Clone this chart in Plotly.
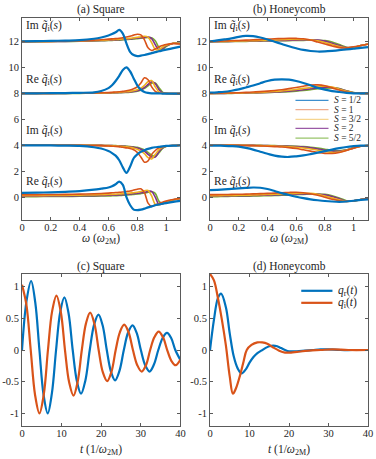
import plotly.graph_objects as go

# spin values and their (MATLAB default) colours
SPINS = ["1/2", "1", "3/2", "2", "5/2"]
COLORS = ["#0072BD", "#D95319", "#EDB120", "#7E2F8E", "#77AC30"]
LEGEND_COLORS = ["#3d8fce", "#f0ab8c", "#f6d58f", "#9a5aa6", "#98c46a"]

# ---- (a) Square: frequency grid and response curves (offset for display) ----
W_SQ = [0, 0.1, 0.2, 0.3, 0.4, 0.5, 0.55, 0.6, 0.625, 0.65, 0.675, 0.7, 0.725,
        0.75, 0.775, 0.8, 0.825, 0.85, 0.875, 0.9, 0.925, 0.95, 0.975, 1.0, 1.05, 1.1]

SQ_IM_QI = {
    "1/2": [12.0, 12.02, 12.04, 12.06, 12.09, 12.2, 12.3, 12.45, 12.56, 12.7, 12.88, 12.6, 11.85,
            11.2, 10.95, 10.87, 10.9, 10.95, 11.02, 11.1, 11.17, 11.24, 11.3, 11.36, 11.48, 11.6],
    "1": [11.98, 11.99, 12.0, 12.02, 12.05, 12.1, 12.13, 12.17, 12.19, 12.21, 12.24, 12.28, 12.33,
          12.4, 12.48, 12.55, 12.5, 12.12, 11.5, 11.3, 11.42, 11.58, 11.68, 11.76, 11.83, 11.8],
    "3/2": [11.98, 11.99, 12.0, 12.01, 12.03, 12.07, 12.09, 12.11, 12.13, 12.14, 12.16, 12.18, 12.2,
            12.23, 12.27, 12.31, 12.35, 12.4, 12.33, 11.9, 11.38, 11.35, 11.55, 11.7, 11.86, 11.82],
    "2": [11.98, 11.99, 11.99, 12.0, 12.02, 12.05, 12.07, 12.09, 12.1, 12.11, 12.13, 12.15, 12.17,
          12.19, 12.22, 12.25, 12.28, 12.31, 12.33, 12.22, 11.75, 11.35, 11.45, 11.65, 11.86, 11.83],
    "5/2": [11.98, 11.98, 11.99, 12.0, 12.01, 12.04, 12.05, 12.07, 12.08, 12.09, 12.1, 12.12, 12.14,
            12.16, 12.18, 12.21, 12.24, 12.27, 12.3, 12.28, 12.05, 11.55, 11.4, 11.6, 11.86, 11.85],
}
SQ_RE_QI = {
    "1/2": [8.0, 8.0, 8.01, 8.02, 8.04, 8.08, 8.18, 8.4, 8.62, 8.95, 9.35, 9.8, 10.0,
            9.7, 9.15, 8.62, 8.28, 8.1, 8.03, 8.0, 7.99, 7.99, 7.98, 7.98, 7.98, 7.98],
    "1": [8.0, 8.0, 8.0, 8.01, 8.02, 8.03, 8.04, 8.06, 8.08, 8.1, 8.12, 8.15, 8.2,
          8.25, 8.35, 8.5, 8.8, 9.2, 9.05, 8.5, 8.15, 8.03, 8.0, 7.99, 7.98, 7.98],
    "3/2": [8.0, 8.0, 8.0, 8.0, 8.01, 8.02, 8.03, 8.04, 8.05, 8.06, 8.08, 8.1, 8.12,
            8.15, 8.2, 8.28, 8.4, 8.62, 8.9, 8.98, 8.5, 8.12, 8.02, 8.0, 7.98, 7.98],
    "2": [8.0, 8.0, 8.0, 8.0, 8.01, 8.02, 8.02, 8.03, 8.04, 8.05, 8.06, 8.07, 8.09,
          8.11, 8.15, 8.2, 8.3, 8.45, 8.68, 8.88, 8.75, 8.3, 8.05, 8.0, 7.98, 7.98],
    "5/2": [8.0, 8.0, 8.0, 8.0, 8.0, 8.01, 8.02, 8.02, 8.03, 8.04, 8.05, 8.06, 8.07,
            8.09, 8.12, 8.16, 8.24, 8.38, 8.58, 8.78, 8.8, 8.45, 8.1, 8.0, 7.98, 7.98],
}
SQ_IM_QR = {
    "1/2": [4.0, 4.0, 3.99, 3.97, 3.95, 3.85, 3.75, 3.55, 3.4, 3.2, 2.85, 2.3, 1.87,
            2.35, 3.0, 3.3, 3.5, 3.62, 3.72, 3.8, 3.85, 3.88, 3.92, 3.95, 3.98, 4.0],
    "1": [4.0, 4.0, 4.0, 4.0, 3.99, 3.98, 3.97, 3.95, 3.93, 3.91, 3.88, 3.85, 3.8,
          3.75, 3.65, 3.45, 3.1, 2.7, 2.8, 3.3, 3.6, 3.8, 3.88, 3.93, 3.98, 4.0],
    "3/2": [4.0, 4.0, 4.0, 4.0, 4.0, 3.99, 3.98, 3.97, 3.96, 3.95, 3.93, 3.91, 3.88,
            3.84, 3.78, 3.7, 3.55, 3.35, 3.05, 2.95, 3.3, 3.65, 3.85, 3.93, 3.98, 4.0],
    "2": [4.0, 4.0, 4.0, 4.0, 4.0, 3.99, 3.99, 3.98, 3.97, 3.96, 3.95, 3.93, 3.91,
          3.88, 3.84, 3.79, 3.7, 3.55, 3.3, 3.1, 3.1, 3.5, 3.8, 3.92, 3.98, 4.0],
    "5/2": [4.0, 4.0, 4.0, 4.0, 4.0, 4.0, 3.99, 3.98, 3.98, 3.97, 3.96, 3.95, 3.93,
            3.91, 3.88, 3.84, 3.76, 3.65, 3.45, 3.25, 3.15, 3.4, 3.75, 3.9, 3.98, 4.0],
}
SQ_RE_QR = {
    "1/2": [0.33, 0.35, 0.38, 0.42, 0.47, 0.58, 0.66, 0.75, 0.85, 1.0, 1.2, 0.95, 0.0,
            -0.6, -0.95, -1.0, -0.96, -0.88, -0.78, -0.7, -0.62, -0.56, -0.5, -0.45, -0.36, -0.28],
    "1": [0.2, 0.2, 0.21, 0.22, 0.24, 0.27, 0.29, 0.32, 0.34, 0.36, 0.38, 0.4, 0.44,
          0.48, 0.55, 0.62, 0.65, 0.35, -0.45, -0.7, -0.6, -0.48, -0.38, -0.3, -0.18, -0.08],
    "3/2": [0.12, 0.12, 0.13, 0.14, 0.16, 0.18, 0.19, 0.21, 0.22, 0.23, 0.25, 0.27, 0.29,
            0.32, 0.35, 0.38, 0.44, 0.5, 0.52, 0.1, -0.55, -0.6, -0.45, -0.35, -0.2, -0.1],
    "2": [0.08, 0.08, 0.09, 0.1, 0.11, 0.12, 0.13, 0.15, 0.16, 0.17, 0.18, 0.2, 0.22,
          0.24, 0.27, 0.3, 0.34, 0.38, 0.45, 0.45, 0.0, -0.55, -0.5, -0.38, -0.2, -0.1],
    "5/2": [0.05, 0.05, 0.06, 0.06, 0.07, 0.08, 0.09, 0.1, 0.11, 0.12, 0.13, 0.15, 0.17,
            0.19, 0.22, 0.25, 0.28, 0.32, 0.38, 0.42, 0.3, -0.3, -0.5, -0.4, -0.2, -0.1],
}

# ---- (b) Honeycomb ----
W_HC = [0, 0.05, 0.1, 0.15, 0.2, 0.25, 0.3, 0.35, 0.4, 0.45, 0.5, 0.55, 0.6,
        0.65, 0.7, 0.75, 0.8, 0.85, 0.9, 0.95, 1.0, 1.05, 1.1]

HC_IM_QI = {
    "1/2": [12.0, 12.08, 12.15, 12.23, 12.35, 12.42, 12.4, 12.3, 12.15, 11.97, 11.8, 11.62,
            11.47, 11.34, 11.26, 11.22, 11.23, 11.27, 11.32, 11.38, 11.44, 11.5, 11.55],
    "1": [12.0, 12.01, 12.03, 12.05, 12.07, 12.1, 12.12, 12.15, 12.17, 12.2, 12.22, 12.24,
          12.23, 12.2, 12.1, 11.95, 11.8, 11.65, 11.52, 11.5, 11.58, 11.68, 11.78],
    "3/2": [11.98, 11.99, 12.0, 12.01, 12.03, 12.04, 12.05, 12.07, 12.09, 12.1, 12.12, 12.14,
            12.15, 12.15, 12.13, 12.05, 11.92, 11.75, 11.6, 11.5, 11.55, 11.68, 11.8],
    "2": [11.97, 11.98, 11.99, 12.0, 12.01, 12.02, 12.03, 12.04, 12.05, 12.06, 12.07, 12.09,
          12.1, 12.11, 12.12, 12.1, 12.02, 11.85, 11.68, 11.52, 11.55, 11.68, 11.8],
    "5/2": [11.97, 11.98, 11.98, 11.99, 12.0, 12.0, 12.01, 12.02, 12.03, 12.04, 12.05, 12.06,
            12.07, 12.08, 12.1, 12.09, 12.06, 11.95, 11.75, 11.55, 11.55, 11.68, 11.8],
}
HC_RE_QI = {
    "1/2": [8.05, 8.08, 8.12, 8.2, 8.3, 8.45, 8.6, 8.78, 8.95, 9.05, 9.08, 9.05,
            8.95, 8.8, 8.62, 8.42, 8.28, 8.17, 8.1, 8.04, 8.0, 7.99, 7.99],
    "1": [8.0, 8.01, 8.02, 8.03, 8.05, 8.07, 8.1, 8.13, 8.17, 8.22, 8.28, 8.36,
          8.45, 8.55, 8.63, 8.65, 8.58, 8.42, 8.25, 8.1, 8.02, 8.0, 8.0],
    "3/2": [8.0, 8.0, 8.01, 8.02, 8.03, 8.04, 8.05, 8.07, 8.1, 8.14, 8.18, 8.24,
            8.3, 8.38, 8.45, 8.52, 8.55, 8.48, 8.32, 8.15, 8.04, 8.0, 8.0],
    "2": [8.0, 8.0, 8.0, 8.01, 8.02, 8.03, 8.04, 8.05, 8.07, 8.1, 8.12, 8.17,
          8.22, 8.28, 8.35, 8.42, 8.47, 8.45, 8.35, 8.18, 8.05, 8.0, 8.0],
    "5/2": [8.0, 8.0, 8.0, 8.0, 8.01, 8.02, 8.03, 8.04, 8.06, 8.08, 8.1, 8.13,
            8.17, 8.22, 8.28, 8.35, 8.4, 8.42, 8.36, 8.2, 8.06, 8.0, 8.0],
}
HC_IM_QR = {
    "1/2": [3.97, 3.97, 3.96, 3.94, 3.9, 3.8, 3.67, 3.5, 3.35, 3.2, 3.12, 3.1,
            3.15, 3.22, 3.32, 3.43, 3.55, 3.67, 3.78, 3.87, 3.93, 3.97, 3.98],
    "1": [4.0, 4.0, 4.0, 3.99, 3.99, 3.98, 3.97, 3.95, 3.93, 3.9, 3.87, 3.82,
          3.75, 3.65, 3.55, 3.45, 3.38, 3.37, 3.45, 3.6, 3.78, 3.92, 3.98],
    "3/2": [4.0, 4.0, 4.0, 4.0, 3.99, 3.99, 3.98, 3.97, 3.96, 3.94, 3.92, 3.89,
            3.85, 3.79, 3.72, 3.62, 3.52, 3.45, 3.48, 3.62, 3.8, 3.93, 3.98],
    "2": [4.0, 4.0, 4.0, 4.0, 4.0, 3.99, 3.99, 3.98, 3.97, 3.96, 3.95, 3.93,
          3.9, 3.86, 3.8, 3.72, 3.62, 3.55, 3.53, 3.63, 3.8, 3.93, 3.98],
    "5/2": [4.0, 4.0, 4.0, 4.0, 4.0, 4.0, 3.99, 3.99, 3.98, 3.97, 3.96, 3.95,
            3.93, 3.9, 3.85, 3.78, 3.7, 3.62, 3.58, 3.65, 3.82, 3.93, 3.98],
}
HC_RE_QR = {
    "1/2": [0.55, 0.57, 0.6, 0.64, 0.68, 0.72, 0.75, 0.73, 0.63, 0.48, 0.32, 0.17,
            0.04, -0.07, -0.16, -0.23, -0.29, -0.33, -0.35, -0.33, -0.27, -0.21, -0.16],
    "1": [0.2, 0.2, 0.21, 0.22, 0.23, 0.24, 0.26, 0.28, 0.3, 0.32, 0.35, 0.37,
          0.38, 0.35, 0.27, 0.15, 0.0, -0.15, -0.28, -0.32, -0.27, -0.18, -0.1],
    "3/2": [0.12, 0.12, 0.13, 0.14, 0.15, 0.16, 0.17, 0.19, 0.21, 0.23, 0.25, 0.28,
            0.3, 0.31, 0.3, 0.22, 0.1, -0.05, -0.2, -0.32, -0.28, -0.18, -0.1],
    "2": [0.1, 0.1, 0.1, 0.11, 0.12, 0.12, 0.13, 0.15, 0.16, 0.18, 0.2, 0.22,
          0.24, 0.26, 0.27, 0.25, 0.18, 0.05, -0.12, -0.3, -0.28, -0.18, -0.1],
    "5/2": [0.05, 0.05, 0.06, 0.07, 0.07, 0.08, 0.09, 0.1, 0.12, 0.13, 0.15, 0.17,
            0.2, 0.22, 0.24, 0.25, 0.22, 0.12, -0.05, -0.27, -0.28, -0.18, -0.1],
}

# ---- (c) Square, time domain ----
T_SQ_R = [0, 1.15, 2.3, 3.35, 4.4, 5.45, 6.5, 7.55, 8.6, 9.65, 10.7, 11.75, 12.8, 13.85,
          14.9, 16.0, 17.1, 18.2, 19.3, 20.35, 21.4, 22.45, 23.5, 24.6, 25.7, 26.8, 27.9,
          28.95, 30.0, 31.1, 32.2, 33.3, 34.4, 35.5, 36.6, 37.65, 38.7, 40]
Q_SQ_R = [0, 0.78, 1.09, 0.75, 0, -0.71, -1.0, -0.68, 0, 0.6, 0.83, 0.58, 0, -0.49,
          -0.69, -0.48, 0, 0.4, 0.56, 0.39, 0, -0.34, -0.48, -0.33, 0, 0.28, 0.39,
          0.27, 0, -0.24, -0.34, -0.23, 0, 0.19, 0.27, 0.19, 0, -0.16]
T_SQ_I = [0, 1.1, 2.2, 3.3, 4.4, 5.5, 6.55, 7.6, 8.7, 9.8, 10.85, 11.9, 13.0, 14.05,
          15.1, 16.15, 17.2, 18.3, 19.35, 20.4, 21.5, 22.6, 23.65, 24.7, 25.8, 26.9, 28.0,
          29.1, 30.2, 31.3, 32.35, 33.4, 34.5, 35.6, 36.65, 37.7, 38.8, 40]
Q_SQ_I = [1.03, 0.72, 0, -0.71, -1.0, -0.7, 0, 0.61, 0.86, 0.6, 0, -0.51, -0.72, -0.5,
          0, 0.42, 0.59, 0.41, 0, -0.35, -0.49, -0.34, 0, 0.28, 0.4, 0.28, 0,
          -0.24, -0.34, -0.24, 0, 0.2, 0.29, 0.2, 0, -0.17, -0.24, -0.15]

# ---- (d) Honeycomb, time domain ----
T_HC_R = [0, 1, 2, 2.8, 4, 5, 6, 7, 8, 9, 10, 11, 12, 13, 14, 15, 16, 17, 18, 19, 20,
          22, 24, 26, 28, 30, 33, 36, 40]
Q_HC_R = [0, 0.48, 0.82, 0.89, 0.68, 0.26, -0.1, -0.29, -0.37, -0.31, -0.2, -0.11, -0.05,
          -0.01, 0.03, 0.06, 0.07, 0.06, 0.03, 0.0, -0.02, -0.02, -0.01, 0.0, 0.01, 0.01,
          0.0, 0.0, 0.0]
T_HC_I = [0, 1, 2, 3, 4, 5, 5.8, 6.6, 7.6, 8.5, 9.3, 10.5, 12, 13.2, 14.5, 16, 17.5,
          19, 20.5, 22, 25, 28, 31, 35, 40]
Q_HC_I = [1.2, 1.1, 0.82, 0.48, 0.08, -0.42, -0.69, -0.6, -0.4, -0.18, 0.0, 0.08, 0.12,
          0.12, 0.1, 0.04, -0.01, -0.04, -0.04, -0.03, -0.01, 0.0, 0.01, 0.0, 0.0]

FONT = "Liberation Serif"
AXC = "#5a5a5a"
TXT = "#262626"

fig = go.Figure()

# frequency-domain panels: blue drawn last so it sits on top
for xa, ya, w, groups in [
    ("x", "y", W_SQ, [SQ_IM_QI, SQ_RE_QI, SQ_IM_QR, SQ_RE_QR]),
    ("x2", "y2", W_HC, [HC_IM_QI, HC_RE_QI, HC_IM_QR, HC_RE_QR]),
]:
    for grp in groups:
        for k in reversed(range(len(SPINS))):
            fig.add_trace(go.Scatter(
                x=w, y=grp[SPINS[k]], xaxis=xa, yaxis=ya, mode="lines",
                line=dict(color=COLORS[k], width=2.2 if k == 0 else 1.6,
                          shape="spline", smoothing=0.9),
                showlegend=False, hoverinfo="skip"))

# time-domain panels
for xa, ya, tr, qr, ti, qi in [
    ("x3", "y3", T_SQ_R, Q_SQ_R, T_SQ_I, Q_SQ_I),
    ("x4", "y4", T_HC_R, Q_HC_R, T_HC_I, Q_HC_I),
]:
    fig.add_trace(go.Scatter(x=tr, y=qr, xaxis=xa, yaxis=ya, mode="lines",
                             line=dict(color=COLORS[0], width=2.2, shape="spline"),
                             showlegend=False, hoverinfo="skip"))
    fig.add_trace(go.Scatter(x=ti, y=qi, xaxis=xa, yaxis=ya, mode="lines",
                             line=dict(color=COLORS[1], width=2.2, shape="spline"),
                             showlegend=False, hoverinfo="skip"))


def axis(domain, rng, vals, texts, anchor, standoff=0):
    return dict(domain=domain, range=rng, tickvals=vals, ticktext=texts, anchor=anchor,
                automargin=False, ticklabelstandoff=standoff,
                showline=True, mirror="ticks", linecolor=AXC, linewidth=1,
                ticks="inside", ticklen=3, tickcolor=AXC, tickwidth=1,
                showgrid=False, zeroline=False,
                tickfont=dict(family=FONT, size=10.5, color=TXT))


XL, XR = [0, 0.458], [0.5434, 1.0]
YT, YB = [0.505, 1.0], [0, 0.3725]
w_ticks = [0, 0.2, 0.4, 0.6, 0.8, 1.0]
w_text = ["0", "0.2", "0.4", "0.6", "0.8", "1"]
s_ticks = [0, 2, 4, 6, 8, 10, 12]
s_text = ["0", "2", "4", "6", "8", "10", "12"]
t_ticks = [0, 10, 20, 30, 40]
t_text = ["0", "10", "20", "30", "40"]
q_ticks = [-1, -0.5, 0, 0.5, 1]
q_text = ["-1", "-0.5", "0", "0.5", "1"]

annotations = []


def note(text, x, y, xref="paper", yref="paper", size=11.5, xanchor="center"):
    annotations.append(dict(text=text, x=x, y=y, xref=xref, yref=yref, showarrow=False,
                            xanchor=xanchor, yanchor="middle",
                            font=dict(family=FONT, size=size, color=TXT)))


note("(a) Square", 0.229, 1.02)
note("(b) Honeycomb", 0.772, 1.02)
note("(c) Square", 0.229, 0.392)
note("(d) Honeycomb", 0.772, 0.392)
note("<i>ω</i> (<i>ω</i><sub>2M</sub>)", 0.229, 0.458)
note("<i>ω</i> (<i>ω</i><sub>2M</sub>)", 0.772, 0.458)
note("<i>t</i> (1/<i>ω</i><sub>2M</sub>)", 0.229, -0.058)
note("<i>t</i> (1/<i>ω</i><sub>2M</sub>)", 0.772, -0.058)

for xr, yr in [("x", "y"), ("x2", "y2")]:
    note("Im <i>q̃</i><sub>i</sub>(<i>s</i>)", 0.012, 13.15, xr, yr, 11.5, "left")
    note("Re <i>q̃</i><sub>i</sub>(<i>s</i>)", 0.012, 9.0, xr, yr, 11.5, "left")
    note("Im <i>q̃</i><sub>r</sub>(<i>s</i>)", 0.012, 5.1, xr, yr, 11.5, "left")
    note("Re <i>q̃</i><sub>r</sub>(<i>s</i>)", 0.012, 1.2, xr, yr, 11.5, "left")

# legend of panel (b), drawn by hand to keep the tight row spacing
shapes = []
leg_y = [7.45, 6.75, 6.0, 5.3, 4.55]
for k, s in enumerate(SPINS):
    shapes.append(dict(type="line", xref="x2", yref="y2", x0=0.595, x1=0.825,
                       y0=leg_y[k], y1=leg_y[k], line=dict(color=LEGEND_COLORS[k], width=1.2)))
    note(f"<i>S</i> = {s}", 0.85, leg_y[k], "x2", "y2", 9.5, "left")

# legend of panel (d)
for k, (lab, yv) in enumerate([("<i>q</i><sub>r</sub>(<i>t</i>)", 0.935),
                               ("<i>q</i><sub>i</sub>(<i>t</i>)", 0.745)]):
    shapes.append(dict(type="line", xref="x4", yref="y4", x0=23.1, x1=31.0,
                       y0=yv, y1=yv, line=dict(color=COLORS[k], width=2.2)))
    note(lab, 32.0, yv, "x4", "y4", 11.5, "left")

fig.update_layout(
    width=376, height=459,
    margin=dict(l=22, r=8, t=18, b=33),
    paper_bgcolor="white", plot_bgcolor="white",
    showlegend=False,
    xaxis=axis(XL, [0, 1.1], w_ticks, w_text, "y", -3),
    yaxis=axis(YT, [-1.75, 13.8], s_ticks, s_text, "x"),
    xaxis2=axis(XR, [0, 1.1], w_ticks, w_text, "y2", -3),
    yaxis2=axis(YT, [-1.75, 13.8], s_ticks, s_text, "x2"),
    xaxis3=axis(XL, [0, 40], t_ticks, t_text, "y3", -3),
    yaxis3=axis(YB, [-1.2, 1.2], q_ticks, q_text, "x3"),
    xaxis4=axis(XR, [0, 40], t_ticks, t_text, "y4", -3),
    yaxis4=axis(YB, [-1.2, 1.2], q_ticks, q_text, "x4"),
    annotations=annotations,
    shapes=shapes,
)

# drop the default body margin so the figure fills the window exactly
fig.write_html("out.html", config={"displayModeBar": False},
               post_script="document.body.style.margin = '0';")
